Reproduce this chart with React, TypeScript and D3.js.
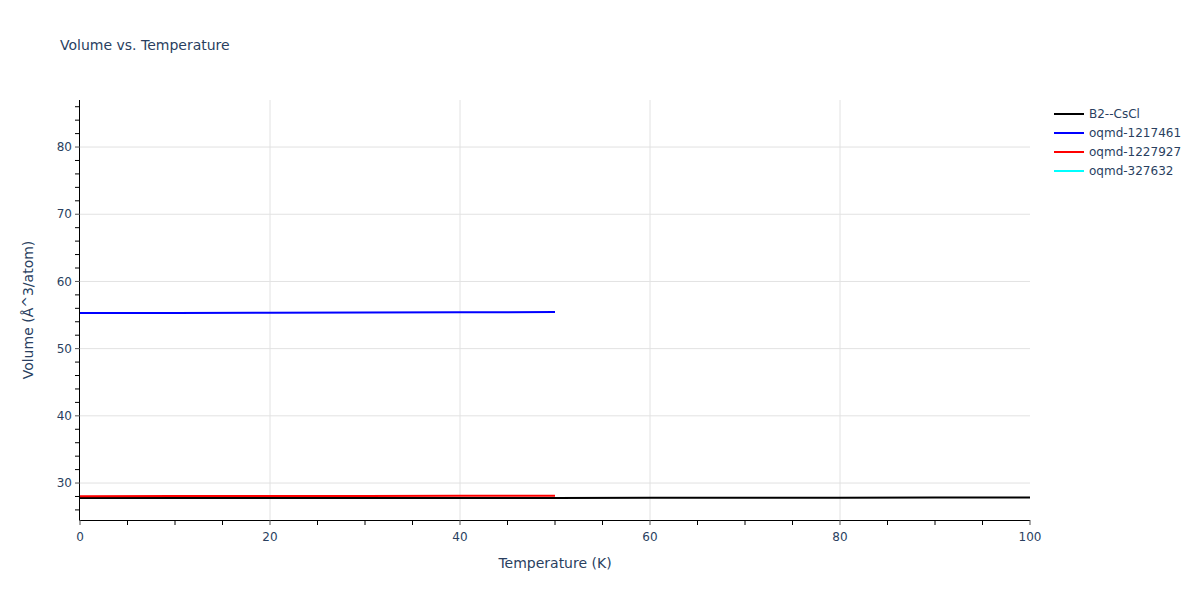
import React from "react";
import * as d3 from "d3";

const temps100 = [0, 10, 20, 30, 40, 50, 60, 70, 80, 90, 100];
const temps50 = [0, 10, 20, 30, 40, 50];
const b2CsCl = [27.76, 27.76, 27.77, 27.77, 27.78, 27.79, 27.8, 27.81, 27.82, 27.84, 27.85];
const oqmd1217461 = [55.3, 55.32, 55.35, 55.38, 55.41, 55.45];
const oqmd1227927 = [28.05, 28.06, 28.07, 28.08, 28.1, 28.12];
const oqmd327632: number[] = [];

const seriesNames = ["B2--CsCl", "oqmd-1217461", "oqmd-1227927", "oqmd-327632"];
const seriesColors = ["black", "blue", "red", "cyan"];
const seriesX = [temps100, temps50, temps50, [] as number[]];
const seriesY = [b2CsCl, oqmd1217461, oqmd1227927, oqmd327632];

const xTicks = [0, 20, 40, 60, 80, 100];
const yTicks = [30, 40, 50, 60, 70, 80];

const W = 1200, H = 600;
const L = 80, R = 1030, T = 100, B = 520;
const FONT = 'Verdana, "DejaVu Sans", sans-serif';
const TXT = "#2a3f5f";

export default function App() {
  const x = d3.scaleLinear().domain([0, 100]).range([L, R]);
  const y = d3.scaleLinear().domain([24.5, 87]).range([B, T]);
  const line = d3.line<[number, number]>().x(d => x(d[0])).y(d => y(d[1]));
  const xMinor = d3.range(0, 100.01, 5);
  const yMinor = d3.range(26, 87, 2);
  return (
    <svg width={W} height={H} style={{ position: "absolute", left: 0, top: 0, background: "white" }} fontFamily={FONT}>
      <rect x={0} y={0} width={W} height={H} fill="white" />
      {xTicks.filter(t => t > 0 && t < 100).map(t => (
        <line key={"gx" + t} x1={x(t)} x2={x(t)} y1={T} y2={B} stroke="#e2e2e2" strokeWidth={1} />
      ))}
      {yTicks.map(t => (
        <line key={"gy" + t} x1={L} x2={R} y1={y(t)} y2={y(t)} stroke="#e2e2e2" strokeWidth={1} />
      ))}
      {seriesNames.map((n, i) => {
        const pts: [number, number][] = seriesX[i].map((xv, j) => [xv, seriesY[i][j]]);
        if (!pts.length) return null;
        return <path key={n} d={line(pts) || ""} fill="none" stroke={seriesColors[i]} strokeWidth={2} />;
      })}
      <line x1={L - 0.5} x2={L - 0.5} y1={T} y2={B + 0.5} stroke="black" strokeWidth={1} />
      <line x1={L - 0.5} x2={R} y1={B + 0.5} y2={B + 0.5} stroke="black" strokeWidth={1} />
      {xMinor.map(t => (
        <line key={"xt" + t} x1={x(t)} x2={x(t)} y1={B} y2={B + 5} stroke={t % 20 === 0 ? "#555" : "black"} strokeWidth={1} />
      ))}
      {yMinor.map(t => (
        <line key={"yt" + t} x1={L - 5} x2={L} y1={y(t)} y2={y(t)} stroke={t % 10 === 0 ? "#555" : "black"} strokeWidth={1} />
      ))}
      {xTicks.map(t => (
        <text key={"xl" + t} x={x(t)} y={B + 21} textAnchor="middle" fontSize={12} fill={TXT}>{t}</text>
      ))}
      {yTicks.map(t => (
        <text key={"yl" + t} x={L - 8} y={y(t)} dy="0.35em" textAnchor="end" fontSize={12} fill={TXT}>{t}</text>
      ))}
      <text x={60} y={50} fontSize={14} fill={TXT}>Volume vs. Temperature</text>
      <text x={(L + R) / 2} y={568} textAnchor="middle" fontSize={14} fill={TXT}>Temperature (K)</text>
      <text transform={`translate(33,${(T + B) / 2}) rotate(-90)`} textAnchor="middle" fontSize={14} fill={TXT}>Volume (Å^3/atom)</text>
      {seriesNames.map((n, i) => (
        <g key={"lg" + n} transform={`translate(1054,${114 + i * 19})`}>
          <line x1={0} x2={30} y1={0} y2={0} stroke={seriesColors[i]} strokeWidth={2} />
          <text x={35} y={0} dy="0.35em" fontSize={12} fill={TXT}>{n}</text>
        </g>
      ))}
    </svg>
  );
}
